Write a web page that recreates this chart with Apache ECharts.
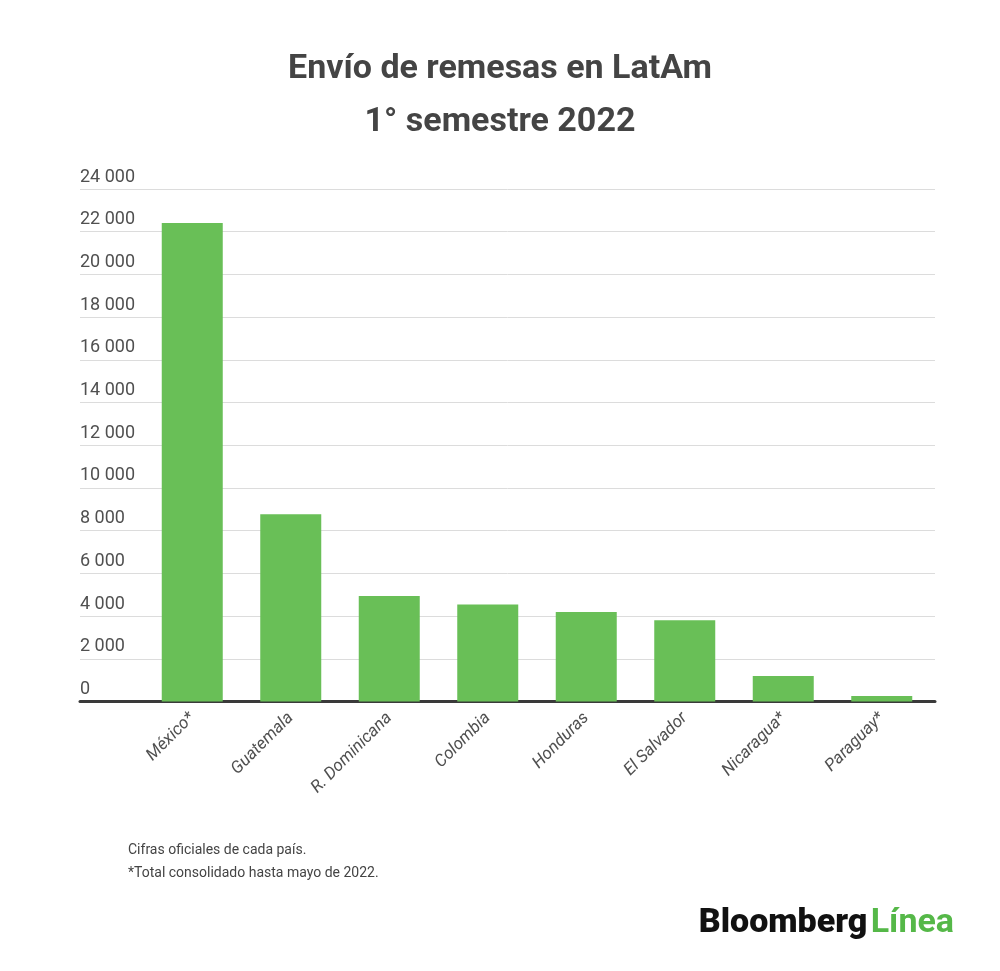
<!DOCTYPE html>
<html>
<head>
<meta charset="utf-8">
<script src="https://cdn.jsdelivr.net/npm/echarts@6/dist/echarts.min.js"></script>
<style>
  html, body { margin: 0; padding: 0; background: #fff; }
  #main { width: 1000px; height: 971px; }
</style>
</head>
<body>
<div id="main"></div>
<script>
// datos
var paises = ['México*', 'Guatemala', 'R. Dominicana', 'Colombia', 'Honduras', 'El Salvador', 'Nicaragua*', 'Paraguay*']
var remesas = [22410, 8770, 4940, 4540, 4190, 3800, 1195, 258]
var yMin = 0
var yMax = 24000
var yPaso = 2000

var element = document.querySelector('#main')
var myChart = echarts.init(element)

var fmt = (v) => String(v).replace(/\B(?=(\d{3})+(?!\d))/g, ' ')

var verde = '#69bf57'
var gris = '#505050'

var option = {
    backgroundColor: '#fff',
    title: {
        text: 'Envío de remesas en LatAm\n1° semestre 2022',
        left: 'center',
        top: 38,
        textStyle: {
            fontFamily: 'Roboto',
            fontSize: 34,
            fontWeight: 'bold',
            color: '#444',
            lineHeight: 53
        }
    },
    grid: [
        // rejilla para las líneas horizontales
        { left: 80, right: 65, top: 189, bottom: 269.5 },
        // rejilla para las barras
        { left: 143, right: 69, top: 189, bottom: 269.5 }
    ],
    xAxis: [
        {
            gridIndex: 0,
            type: 'value',
            min: 0,
            max: 1,
            axisLabel: { show: false },
            axisTick: { show: false },
            splitLine: { show: false },
            axisLine: { show: true, lineStyle: { color: '#3a3a3a', width: 3 } }
        },
        {
            gridIndex: 1,
            type: 'category',
            data: paises,
            axisLine: { show: false },
            axisTick: { show: false },
            axisLabel: {
                rotate: 45,
                margin: 14,
                interval: 0,
                fontFamily: 'Roboto',
                fontStyle: 'italic',
                fontSize: 17,
                color: gris
            }
        }
    ],
    yAxis: [
        {
            gridIndex: 0,
            type: 'value',
            min: yMin,
            max: yMax,
            interval: yPaso,
            axisLine: { show: false },
            axisTick: { show: false },
            splitLine: { lineStyle: { color: '#dcdcdc', width: 1 } },
            axisLabel: {
                inside: true,
                margin: 0,
                verticalAlign: 'bottom',
                padding: [0, 0, 3, 0],
                fontFamily: 'Roboto',
                fontSize: 18,
                color: gris,
                formatter: fmt
            }
        },
        {
            gridIndex: 1,
            type: 'value',
            min: yMin,
            max: yMax,
            interval: yPaso,
            axisLine: { show: false },
            axisTick: { show: false },
            splitLine: { show: false },
            axisLabel: { show: false }
        }
    ],
    series: [
        {
            type: 'bar',
            xAxisIndex: 1,
            yAxisIndex: 1,
            data: remesas,
            barWidth: 61,
            itemStyle: { color: verde },
            z: 1
        }
    ],
    graphic: [
        {
            type: 'text',
            left: 128,
            top: 839,
            style: {
                text: 'Cifras oficiales de cada país.\n*Total consolidado hasta mayo de 2022.',
                fontFamily: 'Roboto',
                fontSize: 14,
                lineHeight: 23,
                fill: '#444'
            }
        },
        {
            type: 'text',
            right: 46,
            top: 906,
            style: {
                text: '{a|Bloomberg} {b|Línea}',
                rich: {
                    a: { fontFamily: 'Roboto', fontWeight: 900, fontSize: 34, fill: '#111', letterSpacing: -1 },
                    b: { fontFamily: 'Roboto', fontWeight: 'bold', fontSize: 34, fill: '#55b848' }
                }
            }
        }
    ]
}

myChart.setOption(option)
</script>
</body>
</html>
